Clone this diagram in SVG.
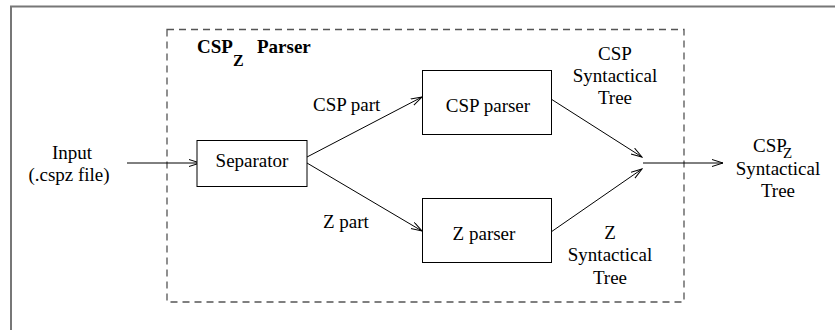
<svg xmlns="http://www.w3.org/2000/svg" width="835" height="330" viewBox="0 0 835 330">
  <defs>
    <marker id="open-arrow" markerUnits="userSpaceOnUse" markerWidth="12" markerHeight="10" refX="11" refY="4" orient="auto">
      <path d="M0,0.5 L11,4 L0,7.5" fill="none" stroke="#000" stroke-width="1"/>
    </marker>
    <style>
      text { font-family: 'Liberation Serif', serif; font-size: 19px; fill: #000; }
      .mid { text-anchor: middle; }
      .bold { font-weight: bold; }
      .box { fill: #fff; stroke: #000; stroke-width: 1; }
      .edge { fill: none; stroke: #000; stroke-width: 1; marker-end: url(#open-arrow); }
      .frame { fill: none; stroke: #777; stroke-width: 2; }
      .group { fill: none; stroke: #555; stroke-width: 1.3; stroke-dasharray: 7 5; }
    </style>
  </defs>

  <rect width="835" height="330" fill="#fff"/>

  <!-- outer frame (top and left edges) -->
  <path class="frame" d="M11,330 L11,6.5 L835,6.5"/>

  <g font-family="Liberation Serif, serif">
    <!-- parser boundary -->
    <g id="parser-boundary">
      <rect class="group" x="167" y="29.5" width="517" height="272.5"/>
      <text class="bold" x="197" y="53">CSP</text>
      <text class="bold" x="233" y="66" style="font-size:16px">Z</text>
      <text class="bold" x="257" y="53">Parser</text>
    </g>

    <!-- connectors -->
    <g id="connectors">
      <line class="edge" x1="127" y1="163" x2="200" y2="163"/>
      <line class="edge" x1="307" y1="157" x2="422" y2="97"/>
      <line class="edge" x1="307" y1="163" x2="422" y2="231"/>
      <line class="edge" x1="551" y1="99" x2="642" y2="157"/>
      <line class="edge" x1="551" y1="232" x2="642" y2="169"/>
      <line class="edge" x1="643" y1="163" x2="723" y2="163"/>
    </g>

    <g id="input">
      <text class="mid" x="72" y="159">Input</text>
      <text class="mid" x="69" y="181">(.cspz file)</text>
    </g>

    <g id="separator">
      <rect class="box" x="197" y="140.5" width="110" height="46"/>
      <text class="mid" x="252" y="167">Separator</text>
    </g>

    <g id="csp-part-label">
      <text x="313" y="111">CSP part</text>
    </g>

    <g id="z-part-label">
      <text x="323" y="228">Z part</text>
    </g>

    <g id="csp-parser">
      <rect class="box" x="422.5" y="70.5" width="129" height="64"/>
      <text class="mid" x="488" y="112">CSP parser</text>
    </g>

    <g id="z-parser">
      <rect class="box" x="422.5" y="198.5" width="129" height="64"/>
      <text class="mid" x="484" y="240">Z parser</text>
    </g>

    <g id="csp-tree-label">
      <text class="mid" x="615" y="60">CSP</text>
      <text class="mid" x="615" y="82">Syntactical</text>
      <text class="mid" x="615" y="104">Tree</text>
    </g>

    <g id="z-tree-label">
      <text class="mid" x="610" y="239">Z</text>
      <text class="mid" x="610" y="261">Syntactical</text>
      <text class="mid" x="610" y="284">Tree</text>
    </g>

    <g id="output">
      <text x="753" y="152">CSP</text>
      <text x="783" y="158" style="font-size:15px">Z</text>
      <text class="mid" x="778" y="175">Syntactical</text>
      <text class="mid" x="778" y="197">Tree</text>
    </g>
  </g>
</svg>
